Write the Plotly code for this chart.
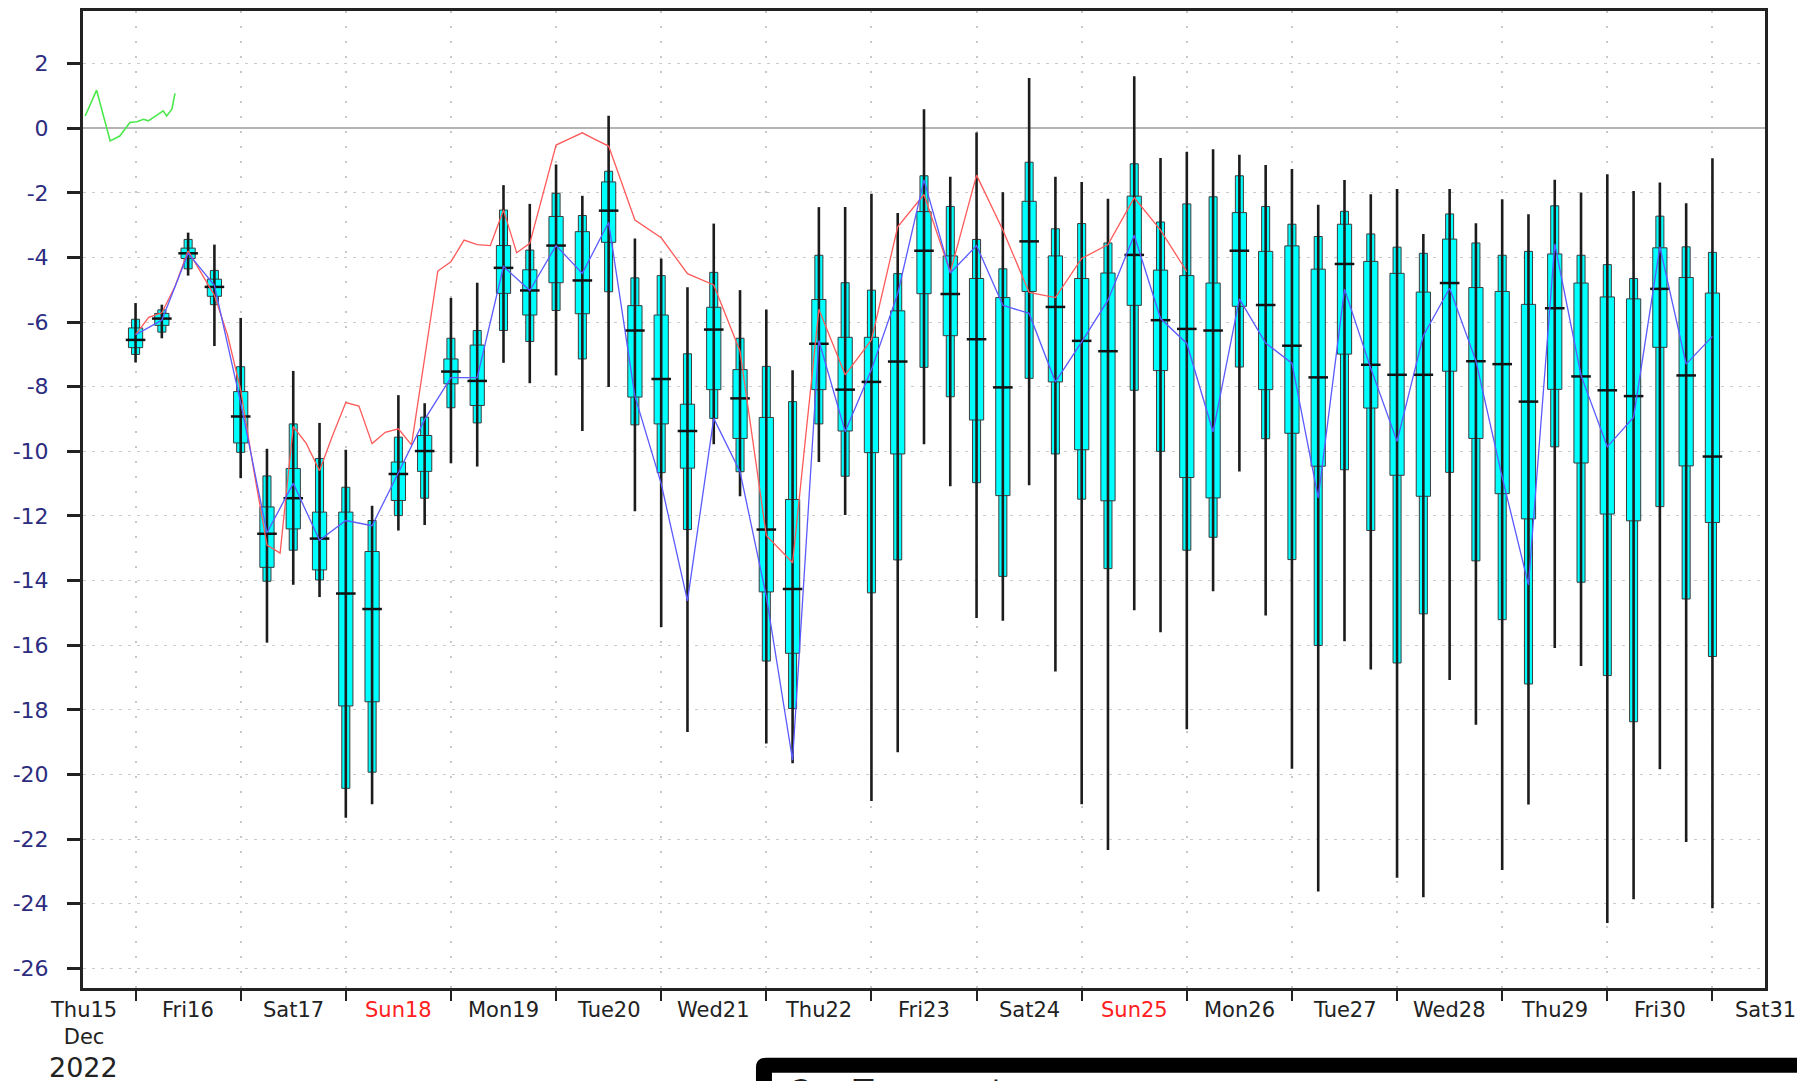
import plotly.graph_objects as go
import pandas as pd

# ---------------- data ----------------
box_times = pd.date_range("2022-12-15 12:00", periods=61, freq="6h")

ens_max = [-5.41, -5.46, -3.23, -3.60, -5.87, -9.92, -7.51, -9.12, -9.95, -11.68,
           -8.26, -8.51, -5.25, -4.78, -1.76, -2.34, -1.12, -2.09, 0.39, -3.41,
           -4.03, -4.92, -2.95, -5.01, -5.61, -7.49, -2.44, -2.44, -2.03, -2.62,
           0.59, -1.50, -0.13, -1.98, 1.56, -1.50, -1.66, -2.18, 1.61, -0.92,
           -0.73, -0.65, -0.82, -1.14, -1.26, -2.37, -1.60, -2.04, -1.88, -3.27,
           -1.88, -2.94, -2.20, -2.66, -1.59, -1.99, -1.42, -1.94, -1.68, -2.32,
           -0.93]
ens_p90 = [-5.91, -5.62, -3.44, -4.40, -7.38, -10.76, -9.15, -10.22, -11.11, -12.14,
           -9.56, -8.94, -6.50, -6.26, -2.53, -3.77, -2.01, -2.70, -1.33, -4.63,
           -4.56, -6.98, -4.46, -6.50, -7.37, -8.46, -3.93, -4.78, -5.01, -4.50,
           -1.47, -2.42, -3.44, -4.35, -1.05, -3.11, -2.95, -3.55, -1.10, -2.90,
           -2.34, -2.12, -1.47, -2.42, -2.97, -3.35, -2.57, -3.27, -3.68, -3.87,
           -2.65, -3.55, -3.93, -3.81, -2.40, -3.93, -4.22, -4.65, -2.72, -3.67,
           -3.84]
ens_p75 = [-6.18, -5.73, -3.71, -4.67, -8.15, -11.72, -10.53, -11.88, -11.88, -13.10,
           -10.33, -9.51, -7.14, -6.71, -3.63, -4.38, -2.73, -3.20, -1.66, -5.49,
           -5.78, -8.54, -5.54, -7.47, -8.95, -11.49, -5.30, -6.47, -6.47, -5.65,
           -2.58, -3.95, -4.65, -5.24, -2.26, -3.95, -4.65, -4.48, -2.10, -4.39,
           -4.56, -4.79, -2.61, -3.81, -3.64, -4.36, -2.97, -4.12, -4.49, -5.07,
           -3.43, -4.93, -5.05, -5.45, -3.89, -4.79, -5.22, -5.28, -3.70, -4.62,
           -5.10]
ens_med = [-6.55, -5.89, -3.87, -4.91, -8.92, -12.55, -11.45, -12.70, -14.40, -14.88,
           -10.70, -9.99, -7.53, -7.82, -4.32, -5.02, -3.63, -4.71, -2.55, -6.26,
           -7.76, -9.37, -6.23, -8.36, -12.42, -14.26, -6.67, -8.09, -7.85, -7.22,
           -3.79, -5.13, -6.53, -8.02, -3.50, -5.53, -6.58, -6.90, -3.92, -5.94,
           -6.21, -6.26, -3.79, -5.47, -6.73, -7.71, -4.20, -7.32, -7.63, -7.63,
           -4.79, -7.21, -7.30, -8.46, -5.57, -7.68, -8.11, -8.29, -4.97, -7.65,
           -10.16]
ens_p25 = [-6.79, -6.10, -4.03, -5.20, -9.74, -13.59, -12.40, -13.67, -17.88, -17.75,
           -11.52, -10.62, -7.91, -8.58, -5.11, -5.78, -4.78, -5.74, -3.53, -8.32,
           -9.15, -10.52, -8.09, -9.60, -14.35, -16.25, -8.09, -9.37, -10.04, -10.08,
           -5.12, -6.42, -9.03, -11.37, -5.05, -7.85, -9.95, -11.53, -5.48, -7.50,
           -10.81, -11.44, -5.51, -8.09, -9.44, -10.46, -6.99, -8.66, -10.74, -11.39,
           -7.52, -9.60, -11.31, -12.09, -8.08, -10.36, -11.94, -12.15, -6.78, -10.45,
           -12.20]
ens_p10 = [-7.00, -6.31, -4.35, -5.46, -10.03, -14.02, -13.06, -13.98, -20.43, -19.93,
           -11.99, -11.45, -8.65, -9.12, -6.26, -6.60, -5.64, -7.14, -5.06, -9.18,
           -10.66, -12.42, -8.98, -10.63, -16.49, -17.96, -9.15, -10.77, -14.38, -13.36,
           -7.40, -8.31, -10.97, -13.87, -7.74, -10.08, -11.48, -13.63, -8.11, -10.00,
           -13.06, -12.66, -7.39, -9.61, -13.35, -16.01, -10.57, -12.45, -16.55, -15.03,
           -10.65, -13.39, -15.21, -17.20, -9.86, -14.05, -16.94, -18.37, -11.71, -14.57,
           -16.35]
ens_min = [-7.25, -6.50, -4.56, -6.74, -10.83, -15.92, -14.13, -14.51, -21.34, -20.92,
           -12.45, -12.28, -10.37, -10.47, -7.26, -7.89, -7.65, -9.37, -8.01, -11.85,
           -15.44, -18.69, -9.78, -11.39, -19.04, -19.65, -10.33, -11.97, -20.82, -19.31,
           -9.78, -11.08, -15.16, -15.24, -11.05, -16.81, -20.92, -22.34, -14.92, -15.60,
           -18.60, -14.33, -10.62, -15.08, -19.82, -23.62, -15.88, -16.75, -23.20, -23.80,
           -17.08, -18.46, -22.96, -20.93, -16.09, -16.64, -24.60, -23.86, -19.84, -22.09,
           -24.14]

control = [-6.39, -5.94, -3.87, -4.86, -8.50, -12.52, -10.99, -12.75, -12.14, -12.30,
           -10.66, -9.01, -7.72, -7.72, -4.28, -5.02, -3.63, -4.49, -2.91, -8.29,
           -11.00, -14.63, -8.98, -10.63, -14.49, -19.56, -6.57, -9.39, -7.47, -5.12,
           -1.60, -4.48, -3.63, -5.48, -5.73, -7.85, -6.61, -5.32, -3.31, -5.89,
           -6.66, -9.40, -5.28, -6.65, -7.27, -11.44, -4.98, -7.43, -9.69, -6.42,
           -4.95, -7.20, -10.80, -14.13, -3.58, -7.65, -9.86, -8.94, -3.67, -7.30,
           -6.44]

hres_hours = [12, 15, 18, 21, 24, 27, 30, 33, 36, 39, 42, 45, 48, 51, 54, 57, 60, 63, 66,
              69, 72, 75, 78, 81, 84, 87, 90, 93, 96, 99, 102, 105, 108, 111, 114, 117,
              120, 126, 132, 138, 144, 150, 156, 162, 168, 174, 180, 186, 192, 198, 204,
              210, 216, 222, 228, 234, 240, 246, 252]
hres_vals = [-6.39, -5.85, -5.71, -4.90, -3.79, -4.50, -5.17, -6.40, -8.10, -10.60, -12.90,
             -13.15, -9.23, -9.76, -10.60, -9.50, -8.49, -8.60, -9.76, -9.41, -9.30, -9.80,
             -7.17, -4.42, -4.13, -3.46, -3.60, -3.63, -2.53, -3.85, -3.56, -2.00, -0.52,
             -0.33, -0.14, -0.35, -0.55, -2.84, -3.39, -4.50, -4.85, -6.90, -12.60, -13.45,
             -5.60, -7.63, -6.55, -3.05, -2.05, -4.46, -1.45, -3.15, -5.08, -5.24, -4.03,
             -3.60, -2.15, -3.15, -4.44]

obs_hours = [0.5, 3.1, 6.2, 8.4, 10.7, 12.3, 13.8, 14.9, 16.8, 18.3, 19.1, 20.3, 21.0]
obs_vals = [0.38, 1.18, -0.39, -0.24, 0.18, 0.20, 0.28, 0.23, 0.40, 0.54, 0.38, 0.59, 1.08]

day_labels = ["Thu15", "Fri16", "Sat17", "Sun18", "Mon19", "Tue20", "Wed21", "Thu22",
              "Fri23", "Sat24", "Sun25", "Mon26", "Tue27", "Wed28", "Thu29", "Fri30", "Sat31"]
y_ticks = [2, 0, -2, -4, -6, -8, -10, -12, -14, -16, -18, -20, -22, -24, -26]

# ---------------- figure ----------------
t0 = pd.Timestamp("2022-12-15 00:00")
t_end = pd.Timestamp("2022-12-31 00:00")
day_dates = pd.date_range(t0, t_end, freq="D")
tick_dates = pd.date_range("2022-12-15 12:00", "2022-12-30 12:00", freq="D")
hres_times = [t0 + pd.Timedelta(hours=h) for h in hres_hours]
obs_times = [t0 + pd.Timedelta(hours=h) for h in obs_hours]

FONT = "DejaVu Sans"
CYAN = "#00ffff"
EDGE = "#3a3a3a"

fig = go.Figure()

# whiskers (min..max)
wx, wy = [], []
for t, lo, hi in zip(box_times, ens_min, ens_max):
    wx += [t, t, None]
    wy += [lo, hi, None]
fig.add_trace(go.Scatter(x=wx, y=wy, mode="lines",
                         line=dict(color="#1c1c1c", width=2.6), hoverinfo="skip"))

# outer boxes p10..p90
fig.add_trace(go.Bar(x=box_times, y=[a - b for a, b in zip(ens_p90, ens_p10)], base=ens_p10,
                     width=6.6e6, marker=dict(color=CYAN, line=dict(color=EDGE, width=1))))
# inner boxes p25..p75
fig.add_trace(go.Bar(x=box_times, y=[a - b for a, b in zip(ens_p75, ens_p25)], base=ens_p25,
                     width=1.17e7, marker=dict(color=CYAN, line=dict(color=EDGE, width=1))))
# medians
fig.add_trace(go.Scatter(x=box_times, y=ens_med, mode="markers",
                         marker=dict(symbol="line-ew", size=14,
                                     line=dict(color="#111111", width=2.5))))
# HRES (red)
fig.add_trace(go.Scatter(x=hres_times, y=hres_vals, mode="lines",
                         line=dict(color="#ff5a5a", width=1.3)))
# control (blue)
fig.add_trace(go.Scatter(x=box_times, y=control, mode="lines",
                         line=dict(color="#5a5aff", width=1.3)))
# observations (green)
fig.add_trace(go.Scatter(x=obs_times, y=obs_vals, mode="lines",
                         line=dict(color="#4ae84a", width=1.6)))

annotations = []
for d, lab in zip(day_dates, day_labels):
    col = "#ff2020" if lab.startswith("Sun") else "#222222"
    text = lab + "<br>Dec" if lab == "Thu15" else lab
    annotations.append(dict(x=d, y=0, xref="x", yref="paper", text=text, showarrow=False,
                            xanchor="center", yanchor="top", yshift=-8,
                            font=dict(family=FONT, size=21, color=col)))
annotations.append(dict(x=day_dates[0], y=0, xref="x", yref="paper", text="2022",
                        showarrow=False, xanchor="center", yanchor="top", yshift=-62,
                        font=dict(family=FONT, size=27, color="#222222")))
annotations.append(dict(x=0.4203, y=-0.0835, xref="paper", yref="paper",
                        text="2m Temperature", showarrow=False, xanchor="left",
                        yanchor="top", font=dict(family=FONT, size=32, color="#222222")))

# bottom black panel (cut off by the frame)
x0, x1 = 0.4001, 1.2
yt, yb = -0.0714, -0.3
rx, ry = 10 / 1682, 10 / 980
shapes = [
    dict(type="path", xref="paper", yref="paper", layer="above",
         path=f"M {x0},{yb} L {x0},{yt - ry} Q {x0},{yt} {x0 + rx},{yt} L {x1},{yt} L {x1},{yb} Z",
         fillcolor="black", line=dict(width=0)),
    dict(type="rect", xref="paper", yref="paper", layer="above",
         x0=0.4096, x1=1.2, y0=-0.3, y1=-0.0867, fillcolor="white", line=dict(width=0)),
]

# the page body adds an 8px offset; margins compensate so the plot frame lands in place
fig.update_layout(
    width=1805, height=1081,
    margin=dict(l=75, r=48, t=0, b=101),
    paper_bgcolor="white", plot_bgcolor="white",
    showlegend=False, barmode="overlay",
    annotations=annotations, shapes=shapes,
    font=dict(family=FONT),
    xaxis=dict(type="date", range=[t0, t_end], tickvals=tick_dates, showticklabels=False,
               ticks="outside", ticklen=10, tickwidth=2, tickcolor="#222222",
               showgrid=True, gridcolor="#c8c8c8", griddash="2px,13px", gridwidth=1.5,
               showline=True, linecolor="#222222", linewidth=3, mirror=True, zeroline=False),
    yaxis=dict(range=[-26.61, 3.63], tickvals=y_ticks, ticktext=[str(v) for v in y_ticks],
               ticks="outside", ticklen=13, tickwidth=2.5, tickcolor="#222222",
               tickfont=dict(family=FONT, size=22, color="#2c2c80"), ticklabelstandoff=14,
               showgrid=True, gridcolor="#cccccc", griddash="3px,6px", gridwidth=1.3,
               zeroline=True, zerolinecolor="#b4b4b4", zerolinewidth=2,
               showline=True, linecolor="#222222", linewidth=3, mirror=True),
)

fig.write_html("out.html")
